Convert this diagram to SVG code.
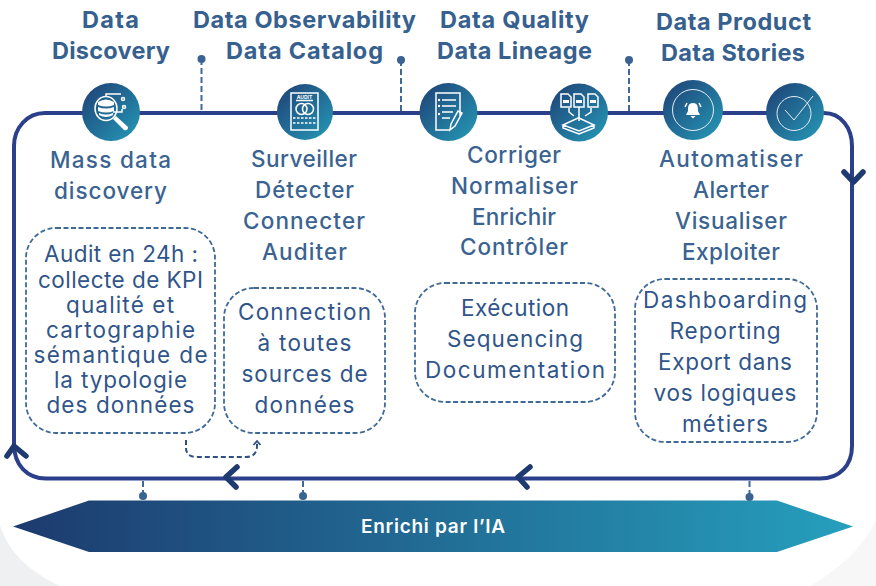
<svg xmlns="http://www.w3.org/2000/svg" width="876" height="586" viewBox="0 0 876 586">
<style>
text{font-family:"Inter","Liberation Sans",sans-serif;text-anchor:middle}
.h{font-size:23.5px;font-weight:700;fill:#36618f}
.s{font-size:22.5px;font-weight:500;fill:#3a6391}
.b{font-size:22.5px;font-weight:400;fill:#30558a}
.box{fill:#fff;stroke:#3f6a98;stroke-width:1.8;stroke-dasharray:5 2.500}
.loop{fill:none;stroke:#2c3f8a;stroke-width:4}
.chev{fill:none;stroke:#1f3a70;stroke-width:5.500;stroke-linecap:round;stroke-linejoin:round}
.tick{fill:none;stroke:#3f6a98;stroke-width:2;stroke-dasharray:6 3}
.dot{fill:#3a6391}
.ic{fill:none;stroke:#fff;stroke-width:1.5}
.icf{fill:#fff}
.thin{fill:none;stroke:#e4edf3;stroke-width:1}
</style>
<defs>
<linearGradient id="cg" x1="0.12" y1="0.12" x2="0.88" y2="0.88"><stop offset="0" stop-color="#1f4a7c"/><stop offset="1" stop-color="#2490b0"/></linearGradient>
<linearGradient id="bg" x1="0" y1="0" x2="1" y2="0"><stop offset="0" stop-color="#1d3a6e"/><stop offset="1" stop-color="#269fbd"/></linearGradient>
</defs>
<rect width="876" height="586" fill="#fff"/>
<path d="M0 525C8 552 30 572 60 586H0Z" fill="#eff0f1"/>
<path d="M876 520C862 550 835 572 810 586H876Z" fill="#f7f7f7"/>

<g id="connectors">
<path class="loop" d="M45 113H824C841 113 852 128 852 146V446C852 465 840 478.500 820 478.500H46C27 478.500 14 465 14 444V146C14 128 27 113 45 113Z"/>
<path class="chev" d="M844 172L853.500 182L863 172"/>
<path class="chev" d="M7 456L14 446L26 456"/>
<path class="chev" d="M237 467L226 477L236 487"/>
<path class="chev" d="M530 467L518 477L527 487"/>
<path class="tick" d="M201.500 59V111M401 60V111M629 60V111M143 481V496M303 481V496M749.500 481V497"/>
<circle class="dot" cx="201.500" cy="59" r="4"/><circle class="dot" cx="401" cy="60" r="4"/><circle class="dot" cx="629" cy="60" r="4"/>
<path d="M186 440V448C186 454 190 457 196 457H246C253 457 257 453 257 446V443" fill="none" stroke="#2f5080" stroke-width="2" stroke-dasharray="5 3"/>
<path d="M253.500 445L257 441L260.500 445" fill="none" stroke="#2f5080" stroke-width="1.800"/>
</g>

<g id="banner">
<path d="M13 526.500L89 500.500H777L853 526.500L777 552H89Z" fill="url(#bg)"/>
<circle class="dot" cx="143" cy="496" r="4"/><circle class="dot" cx="303" cy="496" r="4"/><circle class="dot" cx="749.500" cy="497" r="4"/>
<text x="433" y="533" font-size="19" font-weight="600" fill="#fff" textLength="144">Enrichi par l’IA</text>
</g>

<g id="data-discovery">
<text class="h" x="110.500" y="28" textLength="57">Data</text>
<text class="h" x="111" y="59" textLength="118">Discovery</text>
<circle cx="111" cy="112" r="29" fill="url(#cg)"/>
<ellipse cx="106" cy="108.500" rx="11" ry="12" class="ic" stroke-width="2.500"/>
<path class="icf" d="M98 102Q106 97 114 102V105Q106 108 98 105Z"/>
<path class="icf" d="M98 107Q106 110 114 107V111Q106 114 98 111Z"/>
<path class="icf" d="M99 113Q106 116 113 113V115Q106 119 99 115Z"/>
<path class="icf" d="M113 119L116 116L128 127Q128 131 124 130Z"/>
<path class="ic" stroke-width="1" d="M106 97V94H121M113 112H122V109"/>
<circle class="ic" stroke-width="1" cx="123" cy="99" r="1.500"/><circle class="ic" stroke-width="1" cx="124" cy="107" r="1.500"/>
<text class="s" x="110.500" y="168" textLength="121">Mass data</text>
<text class="s" x="110.500" y="199" textLength="113">discovery</text>
<rect class="box" x="26" y="228" width="189" height="205" rx="30"/>
<text class="b" x="121" y="262" textLength="154">Audit en 24h :</text>
<text class="b" x="120.500" y="288" textLength="165">collecte de KPI</text>
<text class="b" x="120" y="313" textLength="108">qualité et</text>
<text class="b" x="120.500" y="338" textLength="149">cartographie</text>
<text class="b" x="120.500" y="363" textLength="174">sémantique de</text>
<text class="b" x="120.500" y="388" textLength="133">la typologie</text>
<text class="b" x="120.500" y="413" textLength="148">des données</text>
</g>

<g id="data-observability">
<text class="h" x="304.500" y="28" textLength="223">Data Observability</text>
<text class="h" x="304.500" y="59" textLength="157">Data Catalog</text>
<circle cx="305" cy="112" r="28" fill="url(#cg)"/>
<rect class="ic" x="291" y="93" width="27" height="37"/>
<text x="304.500" y="99" font-size="5" font-weight="700" fill="#fff">AUDIT</text>
<path class="ic" d="M296 100.500H313"/>
<circle class="ic" cx="301.500" cy="109" r="5.500"/><circle class="ic" cx="308" cy="109" r="5.500"/>
<path class="ic" stroke-dasharray="2.500 1.500" stroke-width="1" d="M293 118H316M293 123H316"/>
<text class="s" x="304" y="167" textLength="106">Surveiller</text>
<text class="s" x="304.500" y="198" textLength="99">Détecter</text>
<text class="s" x="304" y="229" textLength="122">Connecter</text>
<text class="s" x="304.500" y="260" textLength="85">Auditer</text>
<rect class="box" x="224" y="288" width="161" height="145" rx="30"/>
<text class="b" x="304.500" y="320" textLength="133">Connection</text>
<text class="b" x="304.500" y="351" textLength="94">à toutes</text>
<text class="b" x="304.500" y="382" textLength="126">sources de</text>
<text class="b" x="304.500" y="413" textLength="100">données</text>
</g>

<g id="data-quality">
<text class="h" x="514.500" y="28" textLength="149">Data Quality</text>
<text class="h" x="514.500" y="59" textLength="155">Data Lineage</text>
<circle cx="448.500" cy="112" r="29" fill="url(#cg)"/>
<path class="ic" d="M460 116V93H436V130H450"/>
<path class="ic" d="M442 100H456M442 106H456M442 112H453M442 118H450" stroke-width="1.300"/>
<circle class="icf" cx="439" cy="100" r="1.200"/><circle class="icf" cx="439" cy="106" r="1.200"/><circle class="icf" cx="439" cy="114" r="1.200"/>
<path class="ic" d="M450 130L451 124L458 111L462 113L455 126Z"/>
<circle cx="579" cy="112.500" r="29" fill="url(#cg)"/>
<path class="ic" stroke-width="1.200" d="M561 94H568L571 97V107H561ZM574 94H581L584 97V107H574ZM588 94H595L598 97V107H588Z"/>
<path class="ic" stroke-width="1.200" d="M579 107V121M569 108V112L574 116M591 108V112L585 116"/>
<path class="ic" stroke-width="1.300" d="M563 125L578 118L579 118L594 125L579 131ZM563 125V128L579 134L594 128V125"/>
<rect class="icf" x="563" y="100" width="6" height="3"/><rect class="icf" x="576" y="100" width="6" height="3"/><rect class="icf" x="590" y="100" width="6" height="3"/>
<text class="s" x="514" y="163" textLength="94">Corriger</text>
<text class="s" x="514.500" y="194" textLength="127">Normaliser</text>
<text class="s" x="514" y="225" textLength="84">Enrichir</text>
<text class="s" x="514" y="255" textLength="108">Contrôler</text>
<rect class="box" x="415" y="283" width="200" height="119" rx="30"/>
<text class="b" x="515" y="316" textLength="108">Exécution</text>
<text class="b" x="515" y="347" textLength="136">Sequencing</text>
<text class="b" x="515" y="378" textLength="180">Documentation</text>
</g>

<g id="data-product">
<text class="h" x="733.500" y="30" textLength="155">Data Product</text>
<text class="h" x="733" y="61" textLength="144">Data Stories</text>
<circle cx="693" cy="110" r="30" fill="url(#cg)"/>
<circle class="thin" cx="693" cy="110" r="20.500"/>
<path class="icf" d="M693 103C698 103 698 107 698 111L700 115H686L688 111C688 107 688 103 693 103ZM690.500 116H695.500L693 118.500Z"/>
<path class="ic" d="M685 107L687 103M701 107L699 103" stroke-width="1.200"/>
<circle cx="795" cy="112" r="29" fill="url(#cg)"/>
<circle class="thin" cx="794" cy="113.500" r="17" stroke-width="1.200"/>
<path class="thin" stroke-width="1.200" d="M785 110L794 120L813 96"/>
<text class="s" x="731" y="167" textLength="144">Automatiser</text>
<text class="s" x="731" y="198" textLength="76">Alerter</text>
<text class="s" x="731" y="229" textLength="112">Visualiser</text>
<text class="s" x="731" y="260" textLength="98">Exploiter</text>
<rect class="box" x="635" y="279" width="182" height="163" rx="30"/>
<text class="b" x="725" y="308" textLength="164">Dashboarding</text>
<text class="b" x="725" y="339" textLength="111">Reporting</text>
<text class="b" x="725" y="370" textLength="134">Export dans</text>
<text class="b" x="725" y="401" textLength="143">vos logiques</text>
<text class="b" x="725" y="432" textLength="86">métiers</text>
</g>
</svg>
